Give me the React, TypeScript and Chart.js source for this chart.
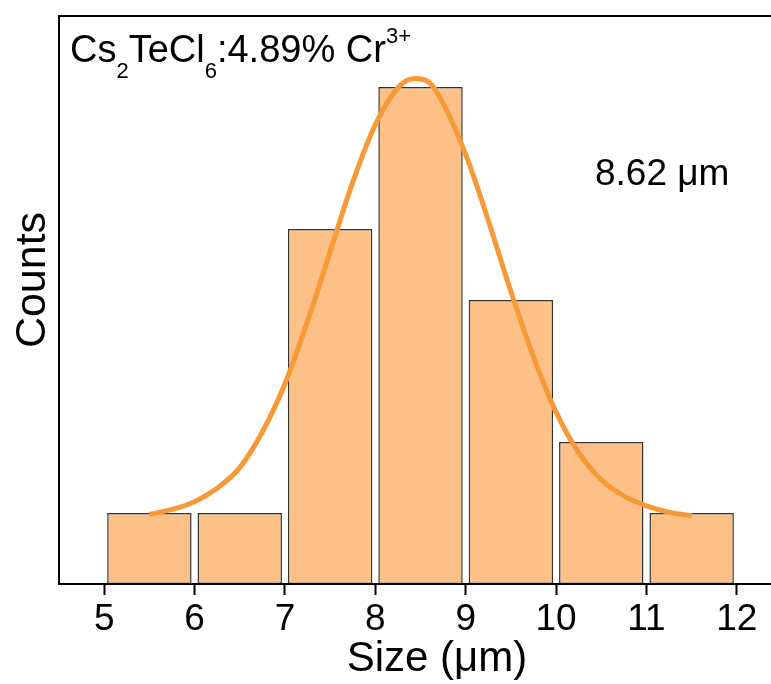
import React, { useEffect, useRef } from "react";
import { Chart, registerables } from "chart.js";

Chart.register(...registerables);

// Histogram bins (bin centres, µm) and counts
const BIN_CENTERS = [5.5, 6.5, 7.5, 8.5, 9.5, 10.5, 11.5];
const COUNTS = [1, 1, 5, 7, 4, 2, 1];

// Fitted distribution curve, sampled along the size axis
const FIT_X = [5.5, 5.75, 6.0, 6.25, 6.5, 6.75, 7.0, 7.25, 7.5, 7.75, 8.0, 8.25, 8.43, 8.6, 8.75, 9.0, 9.25, 9.5, 9.75, 10.0, 10.25, 10.5, 10.75, 11.0, 11.25, 11.5];
const FIT_Y = [0.98, 1.05, 1.16, 1.35, 1.64, 2.14, 2.82, 3.7, 4.68, 5.66, 6.47, 6.99, 7.12, 7.06, 6.77, 6.05, 5.12, 4.12, 3.2, 2.42, 1.85, 1.47, 1.24, 1.1, 1.01, 0.96];

const X_TICKS = [5, 6, 7, 8, 9, 10, 11, 12];
// visible extent of the size axis (the frame continues past the right edge)
const X_MIN = 4.5;
const X_MAX = 12.378;
const Y_MIN = 0;
const Y_MAX = 8;

const X_TITLE = "Size (μm)";
const Y_TITLE = "Counts";
const MEAN_LABEL = "8.62 μm";

const FONT = "'Liberation Sans', Arial, Helvetica, sans-serif";
const BAR_FILL = "rgb(253, 192, 135)";
const BAR_EDGE = "#333333";
const CURVE = "rgb(248, 153, 56)";

// Open frame, axis titles and the in-plot labels
const framePlugin = {
  id: "frameAndLabels",
  afterDatasetsDraw(chart: any) {
    const { ctx, chartArea } = chart;
    const { left, top, right, bottom } = chartArea;
    ctx.save();
    ctx.strokeStyle = "#000";
    ctx.lineWidth = 2;
    ctx.beginPath();
    ctx.moveTo(right + 2, top);
    ctx.lineTo(left, top);
    ctx.lineTo(left, bottom);
    ctx.lineTo(right + 2, bottom);
    ctx.stroke();

    ctx.fillStyle = "#000";
    ctx.textBaseline = "alphabetic";

    // Composition label with sub/superscripts
    ctx.textAlign = "left";
    const big = `38px ${FONT}`;
    const small = `22px ${FONT}`;
    const base = top + 46;
    const parts: [string, string, number][] = [
      ["Cs", big, 0],
      ["2", small, 16],
      ["TeCl", big, 0],
      ["6", small, 16],
      [":4.89% Cr", big, 0],
      ["3+", small, -19],
    ];
    let x = left + 11;
    for (const [t, f, dy] of parts) {
      ctx.font = f;
      ctx.fillText(t, x, base + dy);
      x += ctx.measureText(t).width;
    }

    ctx.font = `37px ${FONT}`;
    ctx.fillText(MEAN_LABEL, left + 536, top + 169);

    // Axis titles
    ctx.textAlign = "center";
    ctx.font = `42px ${FONT}`;
    ctx.fillText(X_TITLE, 437, 671);

    ctx.font = `43px ${FONT}`;
    ctx.translate(45, 280);
    ctx.rotate(-Math.PI / 2);
    ctx.fillText(Y_TITLE, 0, 0);
    ctx.restore();
  },
};

export default function App() {
  const canvasRef = useRef<HTMLCanvasElement | null>(null);

  useEffect(() => {
    document.documentElement.style.overflow = "hidden";
    document.body.style.overflow = "hidden";
    const canvas = canvasRef.current;
    if (!canvas) return;

    const chart = new Chart(canvas, {
      type: "bar",
      data: {
        datasets: [
          {
            type: "line",
            label: "fit",
            data: FIT_X.map((x, i) => ({ x, y: FIT_Y[i] })),
            borderColor: CURVE,
            borderWidth: 5,
            pointRadius: 0,
            cubicInterpolationMode: "monotone",
            fill: false,
            order: 0,
          } as any,
          {
            type: "bar",
            label: "counts",
            data: BIN_CENTERS.map((x, i) => ({ x, y: COUNTS[i] })),
            backgroundColor: BAR_FILL,
            borderColor: BAR_EDGE,
            borderWidth: 1.5,
            borderSkipped: false,
            categoryPercentage: 1,
            barPercentage: 0.934,
            order: 1,
          } as any,
        ],
      },
      options: {
        responsive: false,
        animation: false,
        devicePixelRatio: 1,
        layout: { padding: { left: 0, top: 16, right: 0, bottom: 0 } },
        plugins: {
          legend: { display: false },
          tooltip: { enabled: false },
        },
        scales: {
          x: {
            type: "linear",
            min: X_MIN,
            max: X_MAX,
            offset: false,
            afterBuildTicks: (s: any) => {
              s.ticks = X_TICKS.map((v) => ({ value: v }));
            },
            afterFit: (s: any) => {
              s.height = 100;
            },
            ticks: {
              font: { family: FONT, size: 37 },
              color: "#000",
              padding: 3,
              maxRotation: 0,
              autoSkip: false,
              callback: (v: any) => String(v),
            },
            grid: {
              display: true,
              offset: false,
              drawOnChartArea: false,
              drawTicks: true,
              tickLength: 11,
              tickWidth: 2,
              tickColor: "#000",
              color: "#000",
            },
            border: { display: false },
            title: { display: false },
          },
          y: {
            min: Y_MIN,
            max: Y_MAX,
            afterFit: (s: any) => {
              s.width = 59;
            },
            ticks: { display: false },
            grid: { display: false },
            border: { display: false },
            title: { display: false },
          },
        },
      } as any,
      plugins: [framePlugin],
    });

    return () => chart.destroy();
  }, []);

  return (
    <div style={{ position: "fixed", left: 0, top: 0, width: 771, height: 684, background: "#fff" }}>
      <canvas ref={canvasRef} width={771} height={684} style={{ display: "block" }} />
    </div>
  );
}
